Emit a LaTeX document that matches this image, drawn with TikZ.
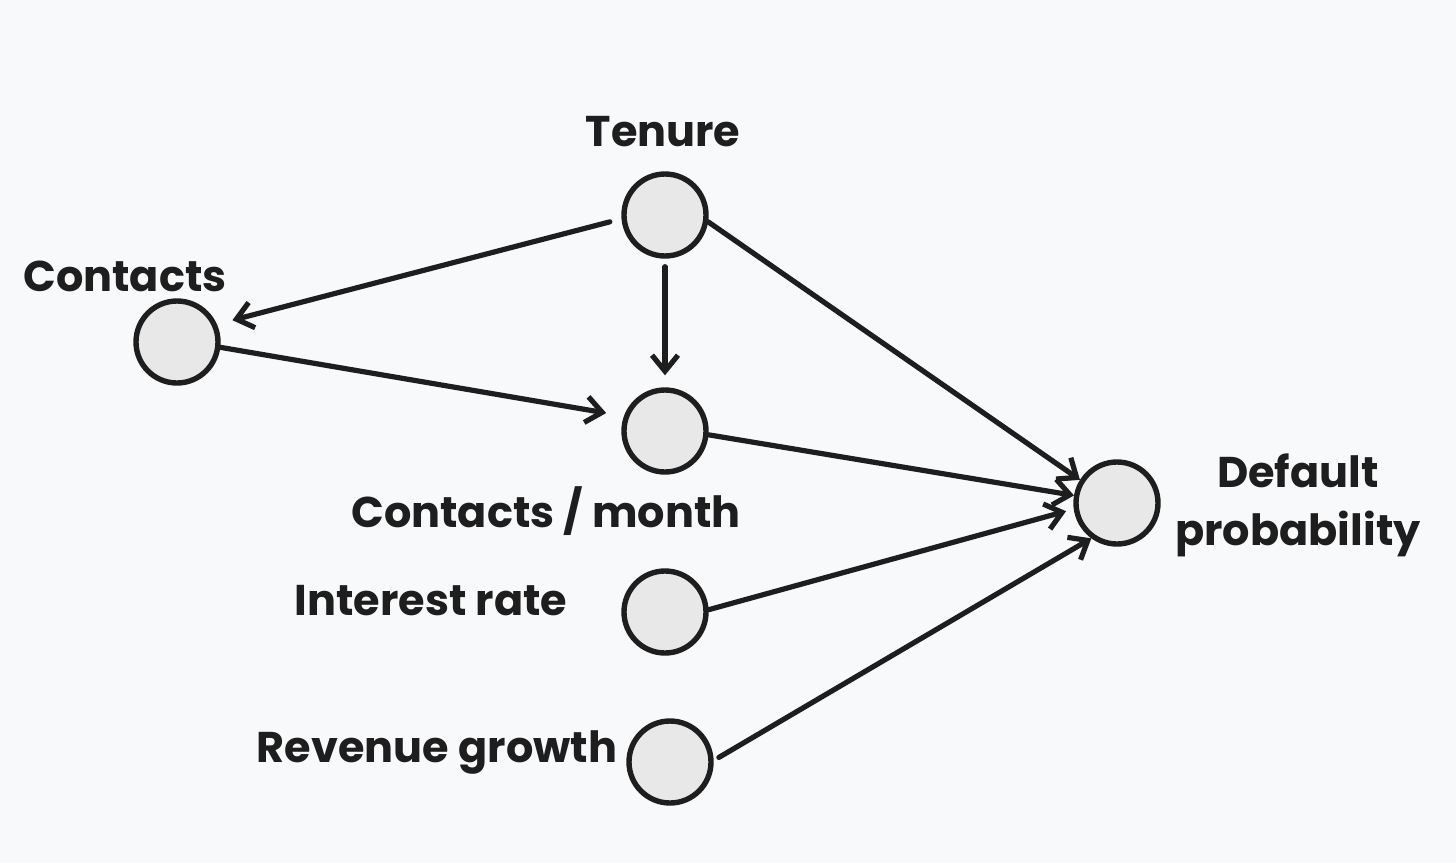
\documentclass[tikz,border=0pt]{standalone}
\usepackage{fontspec}
\setmainfont{Poppins}
\usetikzlibrary{arrows.meta}
\definecolor{bg}{HTML}{F8F9FB}
\definecolor{nodefill}{HTML}{E8E8E8}
\definecolor{ink}{HTML}{1E1E1E}
\begin{document}
\begin{tikzpicture}[x=0.5pt,y=-0.5pt,
  var/.style={circle,draw=ink,fill=nodefill,line width=2.7pt,minimum size=41pt,inner sep=0pt},
  lbl/.style={text=ink,font=\fontsize{21.5}{29}\selectfont\bfseries,align=center,inner sep=0pt},
  edge/.style={draw=ink,line width=2.6pt,line cap=round,-{Straight Barb[length=8pt,width=13pt,line width=2.6pt]}}]
\fill[bg] (0,0) rectangle (1456,862);
\useasboundingbox (0,0) rectangle (1456,862);
% nodes
\node[var] (t) at (665,215) {};
\node[var] (c) at (177,342) {};
\node[var] (m) at (665,431) {};
\node[var] (i) at (665,612) {};
\node[var] (r) at (670,762) {};
\node[var] (d) at (1117,503) {};
% labels
\node[lbl] (tl) at (663,132) {Tenure};
\node[lbl] (cl) at (125,276) {Contacts};
\node[lbl] (ml) at (546,511) {Contacts / month};
\node[lbl] (il) at (431,601) {Interest rate};
\node[lbl] (rl) at (437,752) {Revenue growth};
\node[lbl] (dl) at (1298,505) {Default\\probability};
% edges
\draw[edge,shorten <=6pt,shorten >=8pt] (t.185) -- (c.24);
\draw[edge,shorten <=4pt,shorten >=6pt] (t.270) -- (m.90);
\draw[edge,shorten >=9pt] (c.-7) -- (m.160);
\draw[edge] (t.-9) -- (d.148);
\draw[edge] (m.-5) -- (d.170);
\draw[edge,shorten >=4pt] (i.3) -- (d.188);
\draw[edge,shorten <=3pt] (r.2) -- (d.234);
\end{tikzpicture}
\end{document}
